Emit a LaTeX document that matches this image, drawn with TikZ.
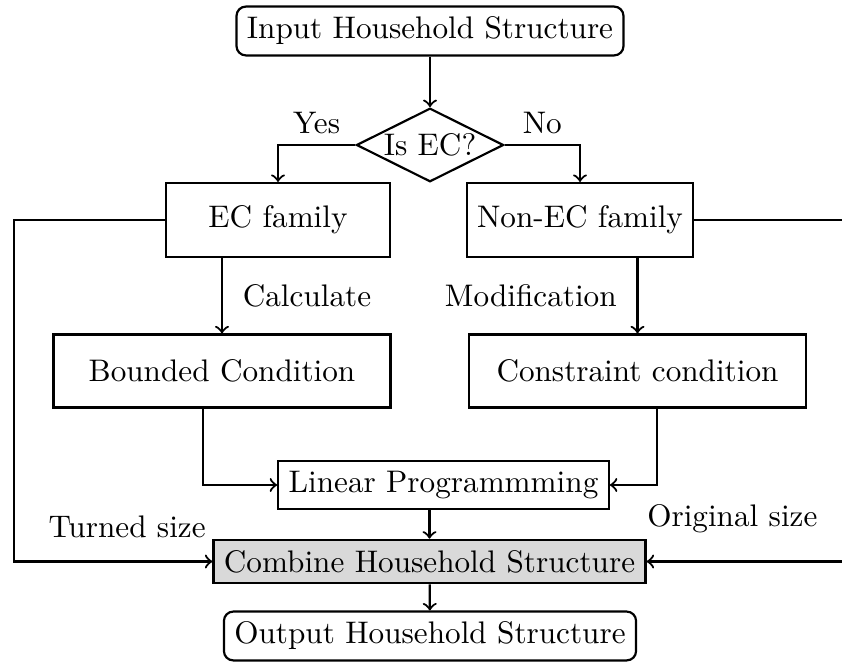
\documentclass[tikz,border=0pt]{standalone}
\usetikzlibrary{shapes.geometric}
\begin{document}
\begin{tikzpicture}[
    x=0.3205pt, y=-0.3205pt, line width=0.7pt,
    every node/.style = {align=center},
    terminal/.style = {draw, rounded corners=3pt},
    decision/.style = {draw, diamond, aspect=2, inner sep=0.5pt},
    family/.style = {draw, minimum width=72pt, minimum height=23.7pt},
    condition/.style = {draw, minimum width=108pt, minimum height=23.4pt},
    process/.style = {draw}
    ]
    \useasboundingbox (0,0) rectangle (842,664);
    \clip (0,0) rectangle (842,664);

    \node[terminal] (input) at (430,31) {Input Household Structure};
    \node[decision] (isec) at (430,145) {Is EC?};
    \node[family] (ecfam) at (278,220) {EC family};
    \node[family] (nonec) at (580,220) {Non-EC family};
    \node[condition] (bounded) at (222,371) {Bounded Condition};
    \node[condition] (constraint) at (637.5,371) {Constraint condition};
    \node[process] (linprog) at (443.5,485) {Linear Programmming};
    \node[process, fill=black!15] (combine) at (429.5,561.5) {Combine Household Structure};
    \node[terminal] (output) at (430,636) {Output Household Structure};
    \coordinate (lturn) at (14,561.5);
    \coordinate (rturn) at (846,561.5);

    \draw[->] (input) -- (isec);
    \draw[->] (isec.west) -| node[pos=0.25, above] {Yes} (ecfam);
    \draw[->] (isec.east) -| node[pos=0.25, above] {No} (nonec);
    \draw[->] (ecfam.south -| bounded.north) -- node[right=3pt] {Calculate} (bounded.north);
    \draw[->] (nonec.south -| constraint.north) -- node[left=3pt] {Modification} (constraint.north);
    \draw[->] ([xshift=-6pt]bounded.south) |- (linprog.west);
    \draw[->] ([xshift=6.2pt]constraint.south) |- (linprog.east);
    \draw[->] (linprog.south -| combine.north) -- (combine.north);
    \draw[->] (ecfam.west) -| (lturn) -- node[pos=0.57, above=4pt] {Turned size} (combine.west);
    \draw[->] (nonec.east) -| (rturn) -- node[pos=0.57, above=5.5pt] {Original size} (combine.east);
    \draw[->] (combine) -- (output);
\end{tikzpicture}
\end{document}
